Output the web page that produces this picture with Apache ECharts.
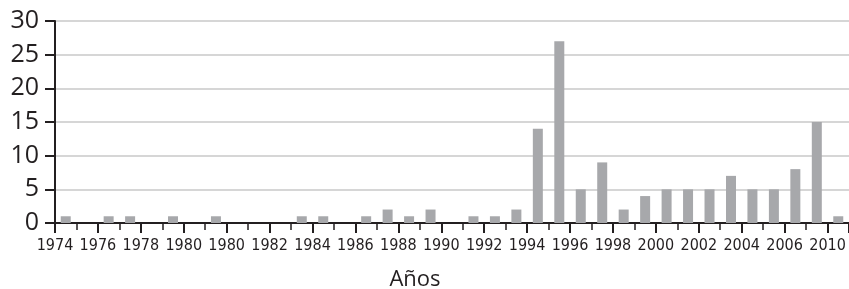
<!DOCTYPE html>
<html>
<head>
<meta charset="utf-8">
<script src="https://cdn.jsdelivr.net/npm/echarts@6/dist/echarts.min.js"></script>
<style>
  html, body { margin: 0; padding: 0; background: #fff; }
  #chart { width: 849px; height: 289px; }
</style>
</head>
<body>
<div id="chart"></div>
<script>
// one bar per year
var years = [];
for (var y = 1974; y <= 2010; y++) years.push(y);

var counts = [1, 0, 1, 1, 0, 1, 0, 1, 0, 0, 0, 1, 1, 0, 1, 2, 1, 2, 0, 1,
              1, 2, 14, 27, 5, 9, 2, 4, 5, 5, 5, 7, 5, 5, 8, 15, 1];

// labels printed under every second boundary (as in the original, typo included)
var tickLabels = ['1974', '1976', '1978', '1980', '1980', '1982', '1984', '1986', '1988', '1990',
                  '1992', '1994', '1996', '1998', '2000', '2002', '2004', '2006', '2010'];

var yTicks = [0, 5, 10, 15, 20, 25, 30];

// bars sit in the middle of each one-year slot on a value axis
var barData = years.map(function (yr, i) {
  return [i + 0.5, counts[i]];
});

var axisColor = '#231f20';

var myChart = echarts.init(document.getElementById('chart'));

var option = {
  animation: false,
  grid: { left: 55, right: -5, top: 21, bottom: 66 },
  xAxis: {
    type: 'value',
    min: 0,
    max: years.length,
    interval: 2,
    axisLine: { show: true, lineStyle: { color: axisColor, width: 2 } },
    axisTick: { show: true, length: 10, lineStyle: { color: axisColor, width: 2 } },
    minorTick: { show: true, splitNumber: 2, length: 7, lineStyle: { color: axisColor, width: 1.5 } },
    splitLine: { show: false },
    axisLabel: {
      margin: 15,
      fontSize: 16,
      color: axisColor,
      fontFamily: '"Liberation Sans Narrow", "DejaVu Sans Condensed", Roboto, sans-serif',
      showMaxLabel: false,
      formatter: function (v) {
        if (v % 2 !== 0) return '';
        return tickLabels[v / 2] || '';
      }
    }
  },
  yAxis: {
    type: 'value',
    min: yTicks[0],
    max: yTicks[yTicks.length - 1],
    interval: 5,
    axisLine: { show: true, lineStyle: { color: axisColor, width: 2 } },
    axisTick: { show: true, length: 10, lineStyle: { color: axisColor, width: 2 } },
    splitLine: { show: true, lineStyle: { color: '#c9c9c9', width: 1.5 } },
    axisLabel: {
      margin: 16,
      fontSize: 25,
      color: axisColor,
      fontFamily: '"Open Sans", sans-serif'
    }
  },
  graphic: [{
    type: 'text',
    x: 415,
    y: 269,
    style: {
      text: 'Años',
      fontSize: 22,
      fontFamily: '"Open Sans", sans-serif',
      fill: axisColor,
      textAlign: 'center'
    }
  }],
  series: [{
    type: 'bar',
    data: barData,
    barWidth: 10,
    itemStyle: { color: '#a7a8ab' }
  }]
};

myChart.setOption(option);
</script>
</body>
</html>
